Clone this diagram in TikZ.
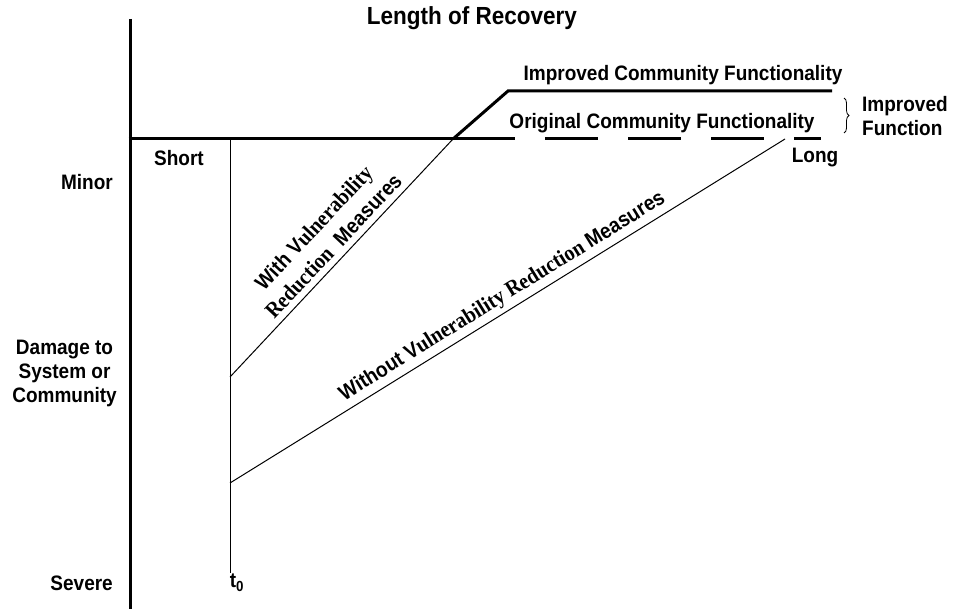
\documentclass[tikz,border=0pt]{standalone}
\usepackage{fontspec}
\setmainfont{Liberation Sans}
\newfontfamily\serifb{Liberation Serif}
\usetikzlibrary{decorations.pathreplacing}
\newcommand\tx[1]{\scalebox{1}[1.1]{#1}}
\newcommand\sr{\fontsize{20.2}{25}\selectfont\serifb}
\tikzset{
  lbl/.style={font=\fontsize{19}{24}\selectfont\bfseries, inner sep=0pt},
  rlbl/.style={font=\fontsize{19.3}{25}\selectfont\bfseries, sloped, above, pos=0.5, inner sep=4pt},
  axisline/.style={line width=3pt},
  thinline/.style={line width=1pt},
  boldline/.style={line width=3pt, line join=miter},
}
\begin{document}
\begin{tikzpicture}[x=1pt,y=-1pt]
\useasboundingbox (0,0) rectangle (961,609);
% coordinates
\coordinate (vtop) at (130,19);
\coordinate (vbot) at (130,609);
\coordinate (h0) at (128.5,139);
\coordinate (hs) at (515,139);
\coordinate (d0) at (545,139);
\coordinate (d1) at (821,139);
\coordinate (ttop) at (230,139);
\coordinate (tbot) at (230,573);
\coordinate (wstart) at (230,377);
\coordinate (wx) at (453,139);
\coordinate (corner) at (508,91);
\coordinate (iend) at (832,91);
\coordinate (wostart) at (230,483);
\coordinate (woend) at (785,139);
\coordinate (btop) at (844,98);
\coordinate (bbot) at (844,133);
% axes
\draw[axisline] (vtop) -- (vbot);
\draw[axisline] (h0) -- (hs);
\draw[axisline, dash pattern=on 53pt off 30pt] (d0) -- (d1);
\draw[thinline] (ttop) -- (tbot);
% with measures
\draw[thinline] (wstart) -- node[rlbl, align=center, inner sep=6pt, pos=0.51]
  {\tx{With V{\sr ulnerability}}\\[2pt]\tx{{\sr Reduction}\ \ Measures}} (wx);
\draw[boldline] (wx) -- (corner) -- (iend);
% without measures
\draw[thinline] (wostart) -- node[rlbl, pos=0.505]
  {\tx{Without V{\sr ulnerability Reduction }Measures}} (woend);
% brace
\draw[line width=0.8pt, decorate, decoration={brace, amplitude=5pt}] (btop) -- (bbot);
% labels
\node[lbl, font=\fontsize{22.5}{24}\selectfont\bfseries] (title) at (472,18) {\tx{Length of Recovery}};
\node[lbl] (impr) at (683,75) {\tx{Improved Community Functionality}};
\node[lbl] (orig) at (662,123) {\tx{Original Community Functionality}};
\node[lbl, anchor=west, align=left] (impf) at (862,116) {\tx{Improved}\\\tx{Function}};
\node[lbl] (long) at (815,158) {\tx{Long}};
\node[lbl] (short) at (179,158) {\tx{Short}};
\node[lbl, anchor=east] (minor) at (113,182) {\tx{Minor}};
\node[lbl, anchor=east, align=center] (damage) at (117,373) {\tx{Damage to}\\\tx{System or}\\\tx{Community}};
\node[lbl, anchor=east] (severe) at (113,583) {\tx{Severe}};
\node[lbl] (t0) at (237,583) {\tx{t\textsubscript{0}}};
\end{tikzpicture}
\end{document}
